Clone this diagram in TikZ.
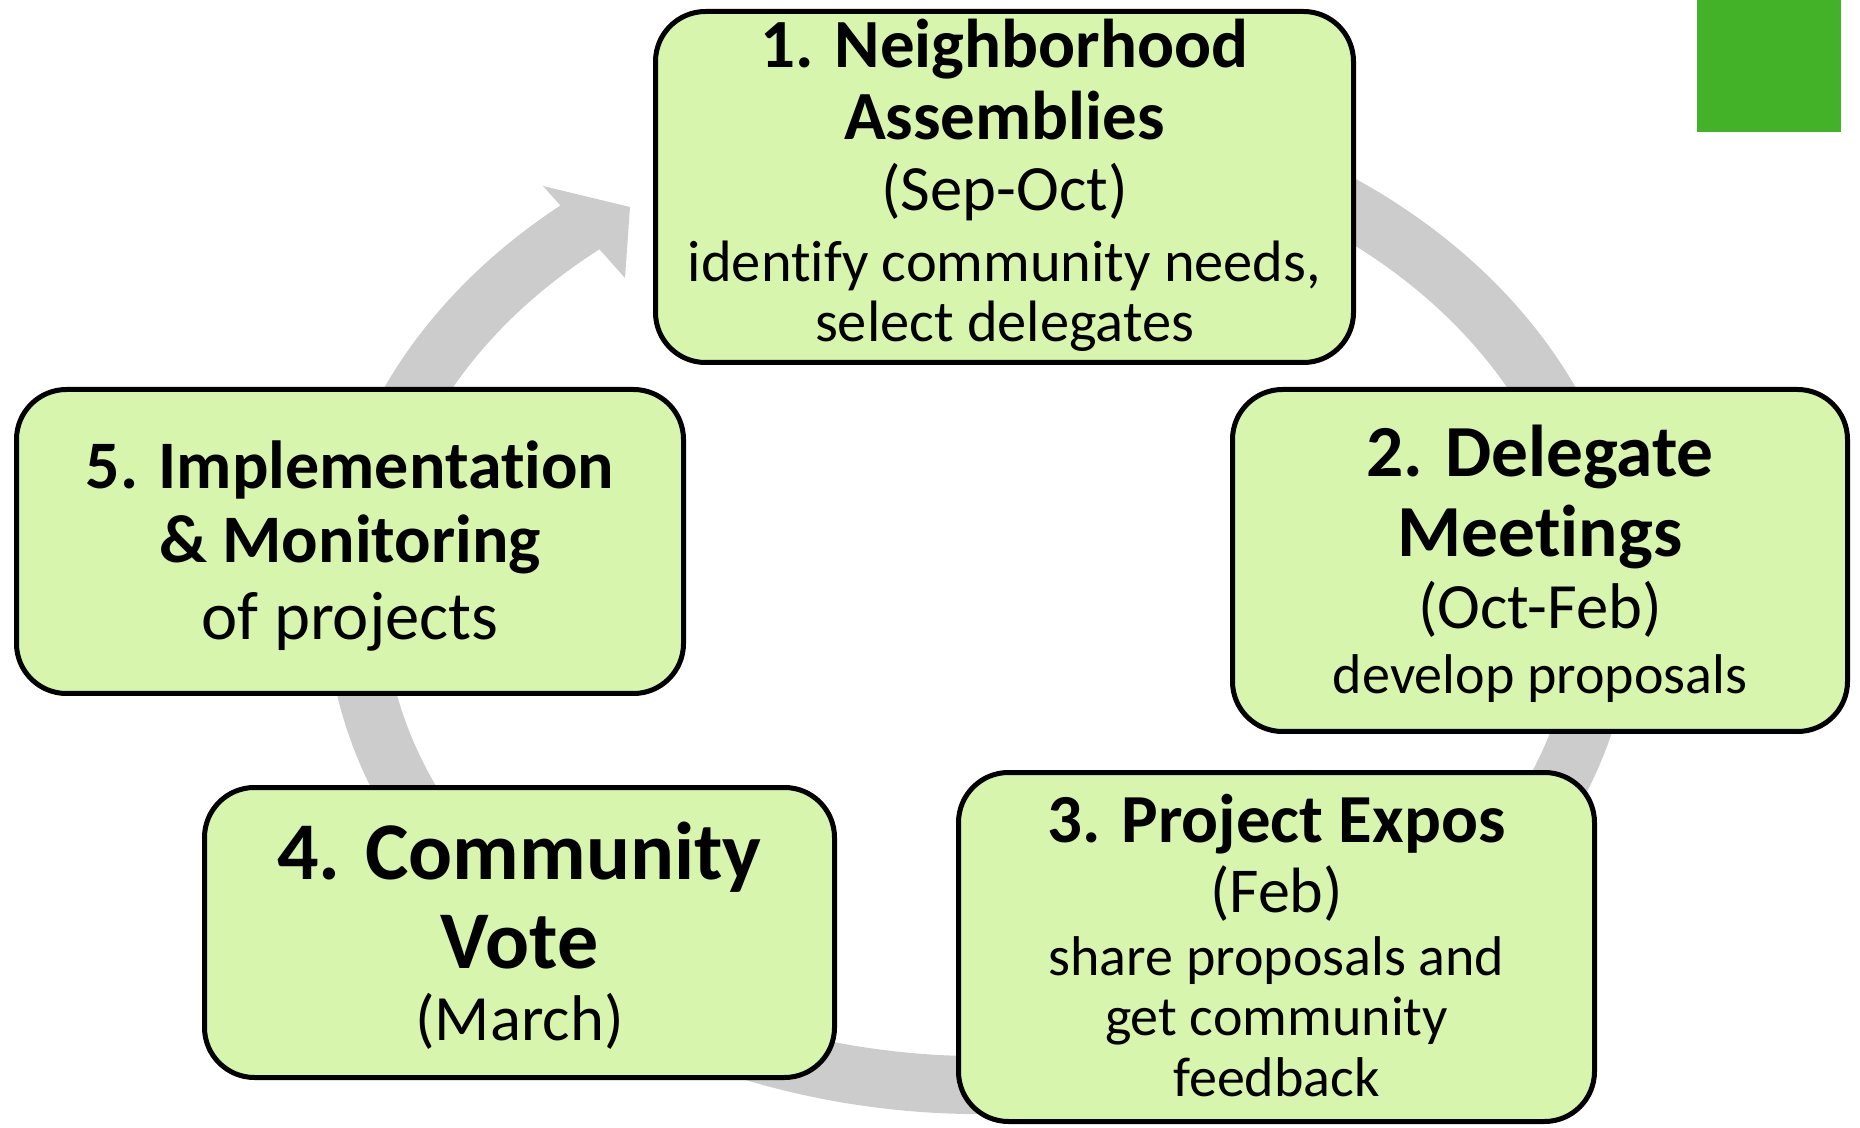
\documentclass[tikz,border=0pt]{standalone}
\usepackage{fontspec}
\setmainfont{Carlito}[Ligatures=NoCommon]
\definecolor{stagefill}{RGB}{216,245,174}
\definecolor{ringgray}{RGB}{204,204,204}
\definecolor{cornergreen}{RGB}{67,178,41}
\newcommand{\fsz}[1]{\fontsize{#1}{#1}\selectfont}
\tikzset{
  stage/.style={draw=black, line width=2.5pt, fill=stagefill, rounded corners=25pt, inner sep=0pt},
  line/.style={anchor=base, inner sep=0pt},
  ttl/.style={line, font=\fsz{#1}\bfseries},
  txt/.style={line, font=\fsz{#1}},
}

\begin{document}
\begin{tikzpicture}[x=0.5pt,y=-0.5pt]
  \useasboundingbox (0,0) rectangle (1860,1128);
  % cycle arrow
  \draw[ringgray, line width=29pt] (980,600) ++(-75:625 and 485)
    arc[start angle=-75, end angle=231, x radius=625, y radius=485];
  \fill[ringgray] (543,186) -- (630,207) -- (625,278) -- cycle;
  % stages
  \node[stage, minimum width=349pt, minimum height=175.5pt] (s1) at (1004.5,187) {};
  \node[stage, minimum width=307.5pt, minimum height=171pt] (s2) at (1540,560.5) {};
  \node[stage, minimum width=318pt, minimum height=174.5pt] (s3) at (1276.5,947) {};
  \node[stage, minimum width=315pt, minimum height=145pt] (s4) at (519.5,932.5) {};
  \node[stage, minimum width=333.5pt, minimum height=152pt] (s5) at (350,541.5) {};
  % stage 1
  \node[ttl=34.5] (s1a) at (1004.5,68) {1. Neighborhood};
  \node[ttl=34.5] (s1b) at (1004.5,140) {Assemblies};
  \node[txt=32.3] (s1c) at (1004.5,211) {(Sep-Oct)};
  \node[txt=29.2] (s1d) at (1004.5,282) {identify community needs,};
  \node[txt=29.2] (s1e) at (1004.5,342) {select delegates};
  % stage 2
  \node[ttl=36.7] (s2a) at (1540,477) {2. Delegate};
  \node[ttl=36.7] (s2b) at (1540,557) {Meetings};
  \node[txt=32.3] (s2c) at (1540,629) {(Oct-Feb)};
  \node[txt=28] (s2d) at (1540,694) {develop proposals};
  % stage 3
  \node[ttl=34.4] (s3a) at (1276.5,842) {3. Project Expos};
  \node[txt=32] (s3b) at (1276.5,912) {(Feb)};
  \node[txt=28] (s3c) at (1276.5,975) {share proposals and};
  \node[txt=28] (s3d) at (1276.5,1035) {get community};
  \node[txt=28] (s3e) at (1276.5,1096) {feedback};
  % stage 4
  \node[ttl=41] (s4a) at (519.5,879) {4. Community};
  \node[ttl=41] (s4b) at (519.5,968) {Vote};
  \node[txt=32.3] (s4c) at (519.5,1040) {(March)};
  % stage 5
  \node[ttl=34] (s5a) at (350,489) {5. Implementation};
  \node[ttl=34] (s5b) at (350,563) {\& Monitoring};
  \node[txt=34.3] (s5c) at (350,640) {of projects};
  % corner mark
  \fill[cornergreen] (1697,0) rectangle (1841,132);
\end{tikzpicture}
\end{document}
